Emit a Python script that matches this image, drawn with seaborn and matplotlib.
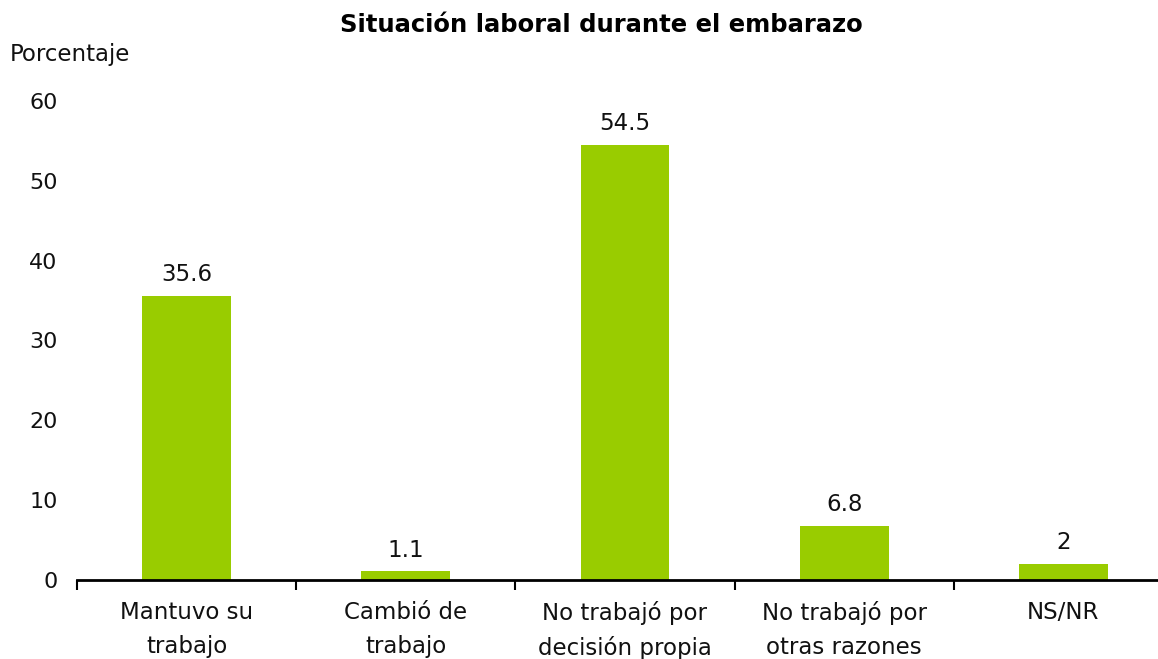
import matplotlib
matplotlib.use("Agg")
import matplotlib.pyplot as plt
import seaborn as sns
import pandas as pd

categories = ["Mantuvo su\ntrabajo", "Cambió de\ntrabajo", "No trabajó por\ndecisión propia",
              "No trabajó por\notras razones", "NS/NR"]
values = [35.6, 1.1, 54.5, 6.8, 2]
value_labels = ["35.6", "1.1", "54.5", "6.8", "2"]
yticks = [0, 10, 20, 30, 40, 50, 60]

sns.set_theme(style="white")
plt.rcParams['font.family'] = ['DejaVu Sans']

W, H = 1158, 659
fig = plt.figure(figsize=(W / 100, H / 100), dpi=100)
# axes from x=77 to 1173 px (extends past right edge), y from 580 to 101 px
left, right = 77, 1173
bottom, top = 580, 101
ax = fig.add_axes([left / W, 1 - bottom / H, (right - left) / W, (bottom - top) / H])

df = pd.DataFrame({"cat": categories, "val": values})
sns.barplot(data=df, x="cat", y="val", color="#99CC00", width=0.405, ax=ax,
            saturation=1, linewidth=0)

ax.set_xlim(-0.5, len(categories) - 0.5)
ax.set_ylim(0, 60)
ax.set_yticks(yticks)
ax.set_yticklabels([str(t) for t in yticks], fontsize=16, color="#111111")
ax.tick_params(axis="y", length=0, pad=14)
ax.set_xticks(range(len(categories)))
ax.set_xticklabels(categories, fontsize=16.5, color="#111111", linespacing=1.6)
ax.tick_params(axis="x", which="major", length=0, pad=15)
# boundary ticks
ax.set_xticks([i - 0.5 for i in range(len(categories) + 1)], minor=True)
ax.tick_params(axis="x", which="minor", bottom=True, length=7, width=1.5,
               color="black", direction="out")

for s in ["top", "right", "left"]:
    ax.spines[s].set_visible(False)
ax.spines["bottom"].set_color("black")
ax.spines["bottom"].set_linewidth(2)
ax.set_xlabel("")
ax.set_ylabel("")

for i, (v, lab) in enumerate(zip(values, value_labels)):
    ax.text(i, v + 1.2, lab, ha="center", va="bottom", fontsize=16.5, color="#111111")

fig.text(601 / W, 1 - 25 / H, "Situación laboral durante el embarazo", ha="center", va="center",
         fontsize=17.5, fontweight="bold", color="black")
fig.text(10 / W, 1 - 55 / H, "Porcentaje", ha="left", va="center", fontsize=16.5, color="#111111")

fig.savefig("out.png", dpi=100, facecolor="white")
